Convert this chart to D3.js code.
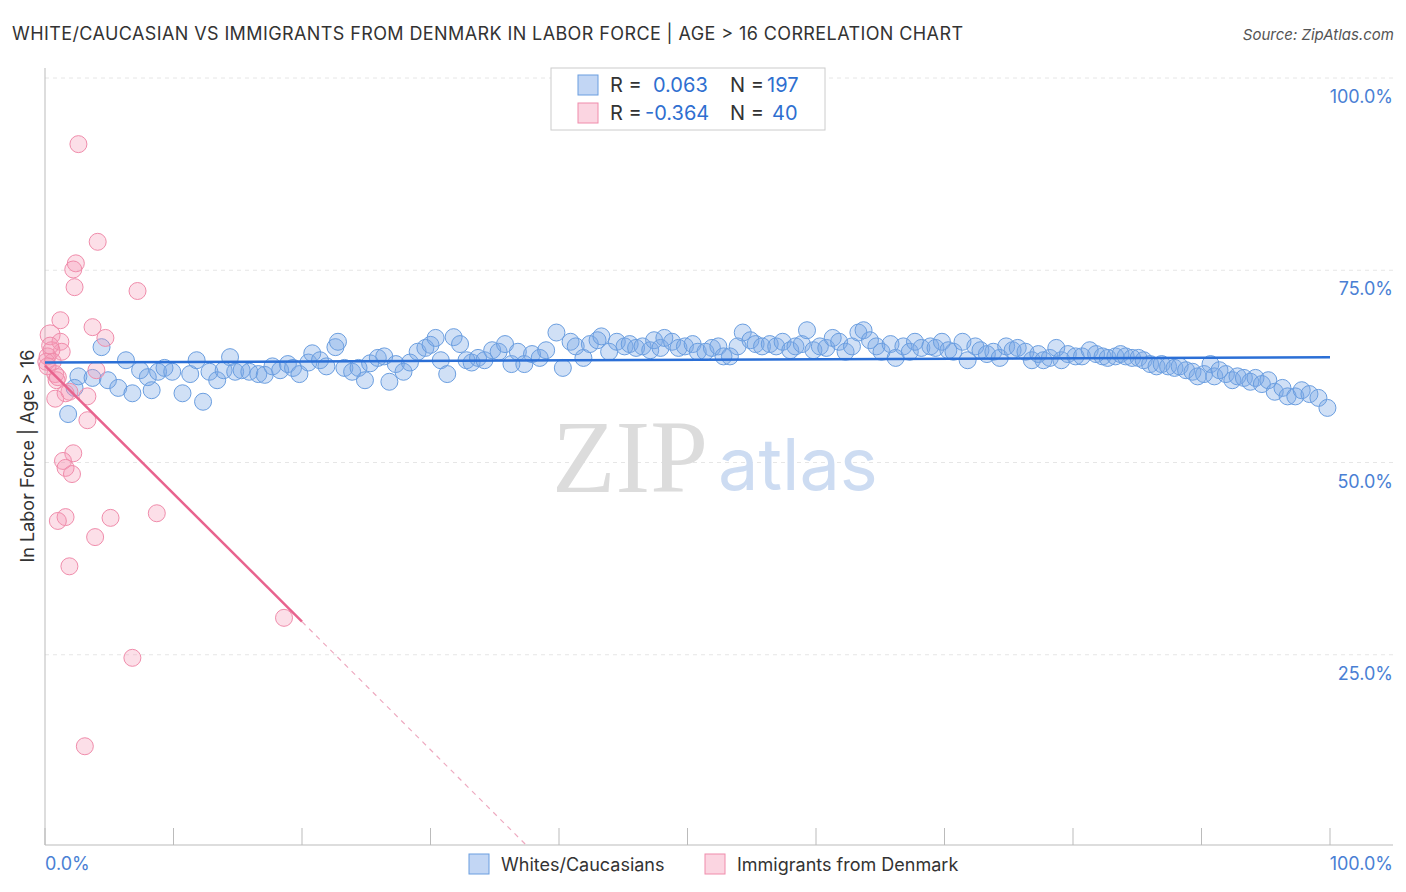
<!DOCTYPE html><html><head><meta charset="utf-8"><script src="https://d3js.org/d3.v7.min.js"></script>
<style>body{margin:0;background:#fff;font-family:Inter,"Noto Sans",sans-serif}</style></head><body><svg id="c" width="1406" height="892"></svg><script>
const blueX=[1.8,2.6,2.3,3.7,4.4,4.9,5.7,6.3,6.8,7.4,8,8.3,8.8,9.3,9.9,10.7,11.3,11.8,12.3,12.8,13.4,13.9,14.4,14.8,15.3,15.9,16.6,17.1,17.7,18.3,18.9,19.3,19.8,20.5,20.8,21.4,21.9,22.6,22.8,23.3,23.9,24.4,24.9,25.3,25.9,26.4,26.8,27.3,27.9,28.4,29,29.6,30,30.4,30.8,31.3,31.8,32.3,32.8,33.2,33.7,34.2,34.8,35.3,35.8,36.3,36.8,37.3,37.9,38.5,39,39.8,40.3,40.9,41.3,41.9,42.4,43,43.3,43.9,44.5,45.1,45.5,46,46.5,47.1,47.4,47.9,48.2,48.8,49.3,49.8,50.4,50.8,51.4,51.9,52.4,52.8,53.3,53.9,54.3,54.9,55.3,55.8,56.4,56.9,57.4,58,58.4,58.9,59.3,59.8,60.3,60.8,61.3,61.8,62.3,62.8,63.3,63.7,64.2,64.7,65.1,65.8,66.2,66.8,67.3,67.7,68.2,68.9,69.3,69.8,70.3,70.7,71.4,71.8,72.4,72.8,73.3,73.8,74.3,74.8,75.3,75.7,76.3,76.8,77.3,77.7,78.2,78.7,79.1,79.6,80.2,80.7,81.3,81.8,82.3,82.7,83.3,83.7,84.1,84.6,85.1,85.5,86,86.5,86.9,87.4,87.9,88.3,88.8,89.3,89.7,90.2,90.7,91,91.4,91.9,92.4,92.8,93.3,93.8,94.2,94.7,95.2,95.7,96.3,96.7,97.3,97.8,98.4,99.1,99.8];
const blueY=[56.3,61.2,59.7,61,65,60.7,59.7,63.3,59,62,61.1,59.4,61.8,62.3,61.8,59,61.5,63.3,57.9,61.8,60.7,62,63.7,61.8,62,61.8,61.5,61.4,62.5,62,62.8,62.3,61.5,63,64.2,63.3,62.5,65,65.7,62.3,61.8,62.3,60.7,62.9,63.6,63.8,60.5,62.8,61.8,63,64.4,64.9,65.3,66.2,63.3,61.5,66.3,65.4,63.3,63,63.6,63.3,64.6,64.4,65.4,62.8,64.4,62.8,64.1,63.6,64.6,66.9,62.3,65.7,65.1,63.6,65.4,65.9,66.4,64.4,65.7,65.1,65.4,64.9,65.1,64.6,65.9,64.9,66.2,65.7,64.9,65.1,65.4,64.4,64.4,64.9,65.1,63.8,63.8,65.1,66.9,65.9,65.4,65.1,65.4,65.1,65.7,64.6,65.1,65.4,67.2,64.6,65.1,64.9,66.2,65.7,64.4,65.1,66.9,67.2,65.9,65.1,64.4,65.4,63.6,65.1,64.4,65.7,64.9,65.1,64.9,65.7,64.6,64.4,65.7,63.3,65.1,64.6,64.1,64.4,63.6,65.1,64.6,64.9,64.4,63.3,64.1,63.3,63.6,64.9,63.3,64.1,63.8,63.8,64.6,64.1,63.8,63.6,63.8,64.1,63.8,63.6,63.6,63.3,62.8,62.5,62.8,62.5,62.3,62.5,62,61.8,61.2,61.5,62.8,61.2,62,61.5,60.7,61.2,61,60.5,61,60.2,60.7,59.2,59.7,58.6,58.6,59.4,58.9,58.4,57.1];
const pinkX=[2.6,4.1,2.4,2.2,2.3,7.2,1.2,3.7,4.7,0.4,1.2,1.3,0.5,0.2,0.6,4,0.8,0.9,1.9,1.6,3.3,0.8,3.3,2.2,1.4,1.6,2.1,1.6,1,5.1,8.7,3.9,1.9,18.6,6.8,3.1,0.1,0.4,0.2,1];
const pinkY=[91.4,78.7,75.9,75.1,72.8,72.3,68.5,67.6,66.2,66.6,65.7,64.4,64.6,63.8,63.1,62,61.5,60.7,59.2,59,58.6,58.3,55.5,51.2,50.2,49.3,48.5,42.9,42.4,42.8,43.4,40.3,36.5,29.8,24.6,13.1,63.1,65.2,62.5,61.1];
const blueTrend=[63.0,63.7], pinkTrend=[62.6,-1.665];
const yTicks=[25,50,75,100];
const svg=d3.select("#c");
const x=d3.scaleLinear([0,100],[45,1330]), y=d3.scaleLinear([0,100],[847,78]);
const g=svg.append("g");
yTicks.forEach(t=>{g.append("line").attr("x1",45).attr("x2",1393).attr("y1",y(t)).attr("y2",y(t)).attr("stroke","#e6e6e6").attr("stroke-dasharray","4,4");
 g.append("text").attr("x",1393).attr("y",y(t)+25).attr("text-anchor","end").attr("fill","#4a7fd4").attr("font-size",18).text(t.toFixed(1)+"%");});
g.append("line").attr("x1",45).attr("x2",45).attr("y1",68).attr("y2",845).attr("stroke","#bbb");
g.append("line").attr("x1",45).attr("x2",1393).attr("y1",845).attr("y2",845).attr("stroke","#bbb");
d3.range(0,101,10).forEach(t=>g.append("line").attr("x1",x(t)).attr("x2",x(t)).attr("y1",828).attr("y2",845).attr("stroke","#bbb"));
g.append("text").attr("x",45).attr("y",870).attr("fill","#4a7fd4").attr("font-size",18).text("0.0%");
g.append("text").attr("x",1393).attr("y",870).attr("text-anchor","end").attr("fill","#4a7fd4").attr("font-size",18).text("100.0%");
svg.append("text").attr("x",552).attr("y",492).attr("font-family","Liberation Serif,serif").attr("font-size",104).attr("fill","#dcdcdc").text("ZIP");
svg.append("text").attr("x",718).attr("y",490).attr("font-size",72).attr("fill","#cddcf2").text("atlas");
g.selectAll(".b").data(blueX).join("circle").attr("cx",d=>x(d)).attr("cy",(d,i)=>y(blueY[i])).attr("r",8.5).attr("fill","rgba(120,165,230,0.35)").attr("stroke","#6a9ee0").attr("stroke-width",1);
g.selectAll(".p").data(pinkX).join("circle").attr("cx",d=>x(d)).attr("cy",(d,i)=>y(pinkY[i])).attr("r",(d,i)=>i==9?10:8.5).attr("fill","rgba(245,150,180,0.3)").attr("stroke","#f08cab").attr("stroke-width",1);
g.append("line").attr("x1",x(0)).attr("x2",x(100)).attr("y1",y(blueTrend[0])).attr("y2",y(blueTrend[1])).attr("stroke","#2b6fd6").attr("stroke-width",2.5);
const pf=v=>pinkTrend[0]+pinkTrend[1]*v;
g.append("line").attr("x1",x(0)).attr("x2",x(20)).attr("y1",y(pf(0))).attr("y2",y(pf(20))).attr("stroke","#e8638e").attr("stroke-width",2.5);
const xe=-pinkTrend[0]/pinkTrend[1];
g.append("line").attr("x1",x(20)).attr("x2",x(xe)).attr("y1",y(pf(20))).attr("y2",y(0)).attr("stroke","#eeaac0").attr("stroke-width",1.2).attr("stroke-dasharray","5,5");
svg.append("text").attr("x",12).attr("y",40).attr("font-size",18).attr("textLength",951).attr("fill","#333").text("WHITE/CAUCASIAN VS IMMIGRANTS FROM DENMARK IN LABOR FORCE | AGE > 16 CORRELATION CHART");
svg.append("text").attr("x",1394).attr("y",40).attr("text-anchor","end").attr("font-size",15).attr("font-style","italic").attr("fill","#555").text("Source: ZipAtlas.com");
svg.append("text").attr("transform","translate(34,456) rotate(-90)").attr("text-anchor","middle").attr("font-size",18).attr("fill","#333").text("In Labor Force | Age > 16");
const L=svg.append("g");
L.append("rect").attr("x",551).attr("y",68).attr("width",274).attr("height",62).attr("fill","#fff").attr("stroke","#ccc");
[["0.063","197","rgba(120,165,230,0.45)","#6a9ee0"],["-0.364"," 40","rgba(245,150,180,0.4)","#f08cab"]].forEach((r,i)=>{const yy=85+i*28;
 L.append("rect").attr("x",578).attr("y",yy-10).attr("width",20).attr("height",20).attr("fill",r[2]).attr("stroke",r[3]);
 const t=L.append("text").attr("x",610).attr("y",yy+7).attr("font-size",20).attr("fill","#333");
 t.append("tspan").text("R = ");t.append("tspan").attr("fill","#2f6fd0").attr("x",r[0].length>5?645:653).text(r[0]);
 t.append("tspan").attr("x",730).text("N = ");t.append("tspan").attr("fill","#2f6fd0").attr("x",i?772:767).text(r[1].trim());});
[["Whites/Caucasians",469,"rgba(120,165,230,0.45)","#6a9ee0"],["Immigrants from Denmark",705,"rgba(245,150,180,0.4)","#f08cab"]].forEach(r=>{
 svg.append("rect").attr("x",r[1]).attr("y",854).attr("width",20).attr("height",20).attr("fill",r[2]).attr("stroke",r[3]);
 svg.append("text").attr("x",r[1]+32).attr("y",871).attr("font-size",18).attr("fill","#333").text(r[0]);});
</script></body></html>
